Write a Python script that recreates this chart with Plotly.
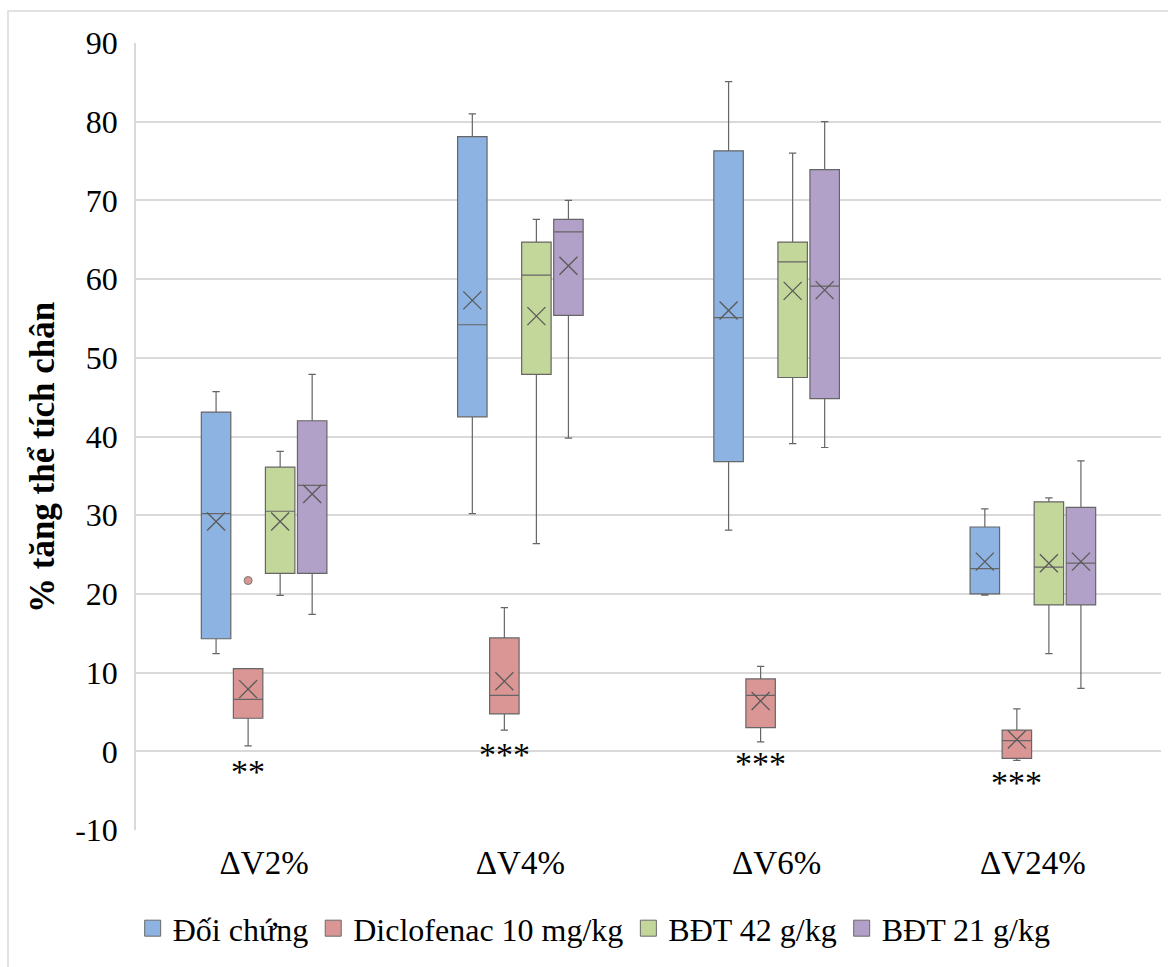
import plotly.graph_objects as go

categories = ["ΔV2%", "ΔV4%", "ΔV6%", "ΔV24%"]
series_names = ["Đối chứng", "Diclofenac 10 mg/kg", "BĐT 42 g/kg", "BĐT 21 g/kg"]
y_ticks = [-10, 0, 10, 20, 30, 40, 50, 60, 70, 80, 90]
y_tick_labels = ["-10", "0", "10", "20", "30", "40", "50", "60", "70", "80", "90"]
y_title = "% tăng thể tích chân"

# statistics per series: [ΔV2%, ΔV4%, ΔV6%, ΔV24%]
doi_chung_low = [12.4, 30.2, 28.1, 19.85]
doi_chung_q1 = [14.3, 42.5, 36.8, 20.0]
doi_chung_med = [30.2, 54.2, 55.1, 23.2]
doi_chung_q3 = [43.1, 78.1, 76.3, 28.5]
doi_chung_high = [45.7, 81.0, 85.1, 30.8]
doi_chung_mean = [29.2, 57.3, 56.0, 24.1]

diclo_low = [0.7, 2.7, 1.2, -1.15]
diclo_q1 = [4.2, 4.75, 3.0, -0.9]
diclo_med = [6.6, 7.1, 7.1, 1.35]
diclo_q3 = [10.5, 14.4, 9.2, 2.7]
diclo_high = [10.5, 18.25, 10.8, 5.4]
diclo_mean = [7.9, 8.9, 6.4, 1.5]

bdt42_low = [19.8, 26.4, 39.1, 12.4]
bdt42_q1 = [22.6, 47.9, 47.5, 18.6]
bdt42_med = [30.5, 60.5, 62.2, 23.4]
bdt42_q3 = [36.1, 64.7, 64.7, 31.7]
bdt42_high = [38.1, 67.6, 76.0, 32.2]
bdt42_mean = [29.2, 55.3, 58.5, 23.9]

bdt21_low = [17.4, 39.8, 38.6, 8.0]
bdt21_q1 = [22.6, 55.4, 44.8, 18.6]
bdt21_med = [33.8, 66.0, 59.1, 23.9]
bdt21_q3 = [42.0, 67.6, 73.9, 31.0]
bdt21_high = [47.9, 70.0, 80.0, 36.9]
bdt21_mean = [32.7, 61.7, 58.6, 24.1]

# outlier (Diclofenac, ΔV2%)
outlier_cat = [0]
outlier_val = [21.7]

significance = ["**", "***", "***", "***"]
significance_y = [-2.6, -0.4, -1.6, -4.0]

FONT = "Times New Roman, Liberation Serif, serif"
fill_colors = ["#8DB3E2", "#DA9694", "#C4D79B", "#B1A0C7"]
line_color = "#666666"
offsets = [-0.1875, -0.0625, 0.0625, 0.1875]
box_w = 0.115

stats = [
    (doi_chung_low, doi_chung_q1, doi_chung_med, doi_chung_q3, doi_chung_high, doi_chung_mean),
    (diclo_low, diclo_q1, diclo_med, diclo_q3, diclo_high, diclo_mean),
    (bdt42_low, bdt42_q1, bdt42_med, bdt42_q3, bdt42_high, bdt42_mean),
    (bdt21_low, bdt21_q1, bdt21_med, bdt21_q3, bdt21_high, bdt21_mean),
]

fig = go.Figure()
idx = list(range(len(categories)))
for k, (name, st) in enumerate(zip(series_names, stats)):
    lo, q1, med, q3, hi, mean = st
    xs = [i + offsets[k] for i in idx]
    fig.add_trace(go.Box(
        x=xs, lowerfence=lo, q1=q1, median=med, q3=q3, upperfence=hi,
        name=name, fillcolor=fill_colors[k],
        line=dict(color=line_color, width=1.2),
        width=box_w, whiskerwidth=0.25, boxpoints=False,
        legendgroup=name, showlegend=False,
    ))
    fig.add_trace(go.Scatter(
        x=xs, y=mean, mode="markers",
        marker=dict(symbol="x-thin-open", size=18, color="#5a5a5a",
                    line=dict(color="#5a5a5a", width=1.3)),
        showlegend=False, hoverinfo="skip",
    ))

# legend entries (square swatches)
for k, name in enumerate(series_names):
    fig.add_trace(go.Scatter(
        x=[None], y=[None], mode="markers", name=name, legendgroup=name,
        marker=dict(symbol="square", size=20, color=fill_colors[k],
                    line=dict(color="#6a6a6a", width=1)),
        showlegend=True,
    ))

fig.add_trace(go.Scatter(
    x=[c + offsets[1] for c in outlier_cat], y=outlier_val, mode="markers",
    marker=dict(symbol="circle", size=8, color=fill_colors[1], line=dict(color="#777777", width=1)),
    showlegend=False, hoverinfo="skip",
))

for i, (s, yv) in enumerate(zip(significance, significance_y)):
    fig.add_annotation(x=i + offsets[1], y=yv, text=s, showarrow=False,
                       font=dict(family=FONT, size=34, color="#000000"),
                       xanchor="center", yanchor="middle")

# y-axis title (placed slightly below the plot's centre, as in the original)
fig.add_annotation(xref="paper", yref="paper", x=-94 / 1025, y=372 / 787,
                   text="<b>" + y_title + "</b>", textangle=-90, showarrow=False,
                   font=dict(family=FONT, size=35, color="#000000"),
                   xanchor="center", yanchor="middle")

# outer chart border
fig.add_shape(type="rect", xref="paper", yref="paper",
              x0=-128 / 1025, x1=1.012, y0=-0.2, y1=(830 - 11) / 787,
              line=dict(color="#d9d9d9", width=1.5), fillcolor="rgba(0,0,0,0)", layer="below")

fig.update_layout(
    width=1168, height=967,
    margin=dict(l=136, r=7, t=43, b=137),
    paper_bgcolor="white", plot_bgcolor="white",
    font=dict(family=FONT, size=32, color="#000000"),
    xaxis=dict(range=[-0.5, 3.5], tickvals=idx, ticktext=categories, showgrid=False,
               zeroline=False, showline=False, ticks="", tickfont=dict(family=FONT, size=33),
               ticklabelstandoff=10),
    yaxis=dict(range=[-10, 90], tickvals=y_ticks, ticktext=y_tick_labels,
               showgrid=True, gridcolor="#d9d9d9", gridwidth=1.5,
               zeroline=False, showline=True, linecolor="#d9d9d9", linewidth=1.5, ticks="",
               tickfont=dict(family=FONT, size=32), ticklabelstandoff=10),
    legend=dict(orientation="h", x=0.447, xanchor="center", y=-0.125, yanchor="middle",
                font=dict(family=FONT, size=32), itemsizing="trace", tracegroupgap=0,
                itemwidth=30),
    showlegend=True,
)

fig.write_html("out.html")
